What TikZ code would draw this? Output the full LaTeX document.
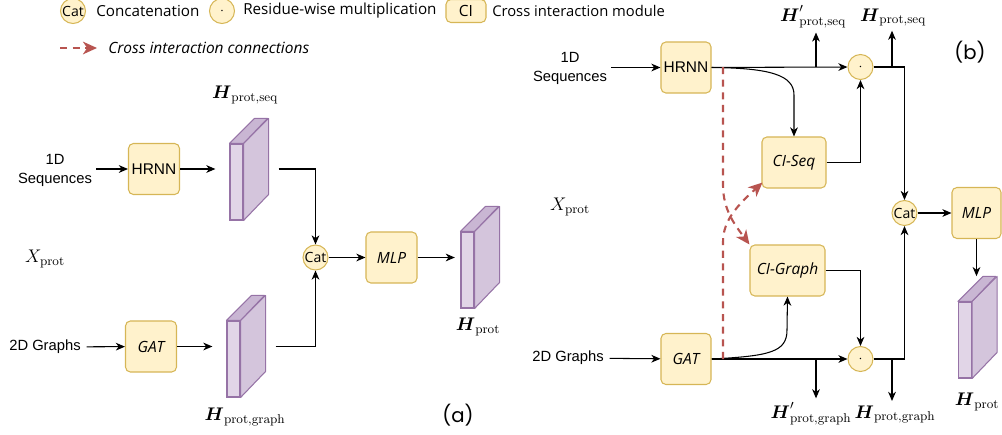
\RequirePackage{fix-cm}
\documentclass[tikz,border=0pt]{standalone}
\usepackage{amsmath}
\usepackage[no-math]{fontspec}
\setmainfont{Liberation Sans}
\newfontfamily\comicf{Open Sans}
\newfontfamily\roundf{Poppins}
\usetikzlibrary{arrows.meta}
\definecolor{blkfill}{HTML}{FFF2CC}
\definecolor{blkdraw}{HTML}{D6B656}
\definecolor{tfront}{HTML}{E1D5E7}
\definecolor{tsidec}{HTML}{D4C5DC}
\definecolor{ttopc}{HTML}{C9B6D3}
\definecolor{tdraw}{HTML}{9673A6}
\definecolor{crossred}{HTML}{B85450}

% tensor: name, centre of the front face
\newcommand{\tensorblk}[2]{%
  \node[tface] (#1) at (#2) {};
  \filldraw[tside] (#1.north east) -- ++(25,-25) -- ++(0,76) -- (#1.south east) -- cycle;
  \filldraw[ttop] (#1.north west) -- ++(25,-25) -- ++(13,0) -- (#1.north east) -- cycle;
}

\begin{document}
\begin{tikzpicture}[x=0.025cm,y=-0.025cm]
      \tikzstyle{block}=[rectangle, rounded corners=3.5pt, draw=blkdraw, fill=blkfill, line width=0.75pt,
        minimum width=1.275cm, minimum height=1.275cm, inner sep=0pt, font=\comicf\fontsize{11}{13}\selectfont]
      \tikzstyle{catc}=[circle, draw=blkdraw, fill=blkfill, line width=0.75pt, minimum size=0.625cm,
        inner sep=0pt, font=\comicf\fontsize{10}{11}\selectfont]
      \tikzstyle{dotc}=[catc, font=\normalsize]
      \tikzstyle{tface}=[rectangle, draw=tdraw, fill=tfront, line width=0.75pt,
        minimum width=0.325cm, minimum height=1.9cm, inner sep=0pt]
      \tikzstyle{tside}=[draw=tdraw, fill=tsidec, line width=0.75pt, line join=round]
      \tikzstyle{ttop}=[draw=tdraw, fill=ttopc, line width=0.75pt, line join=round]
      \tikzstyle{lbl}=[inner sep=0pt, font=\fontsize{10.5}{13.5}\selectfont]
      \tikzstyle{lgd}=[inner sep=0pt, anchor=west, font=\comicf\fontsize{10.8}{12}\selectfont]
      \tikzstyle{mathl}=[inner sep=0pt, font=\fontsize{13}{15}\selectfont]
      \tikzstyle{tag}=[inner sep=0pt, font=\roundf\fontsize{14}{16}\selectfont]
      \tikzstyle{arr}=[-{Stealth[length=6.5pt,width=5.5pt,inset=2pt]}, line width=0.75pt]
      \tikzstyle{cross}=[-{Stealth[length=10pt,width=9pt,inset=3pt]}, draw=crossred, line width=1.5pt,
        dash pattern=on 5pt off 4pt]
      \useasboundingbox (0,0) rectangle (1002,435);

      % legend
      \node[catc] (lcat) at (73,11) {Cat};
      \node[lgd] (lcatt) at (96,11) {Concatenation};
      \node[dotc] (ldot) at (222,11) {$\cdot$};
      \node[lgd] (ldott) at (243,11) {Residue-wise multiplication};
      \node[block, minimum width=1cm, minimum height=0.575cm] (lci) at (466,11) {CI};
      \node[lgd, font=\comicf\fontsize{10.5}{12}\selectfont] (lcit) at (492,11) {Cross interaction module};
      \coordinate (lcs) at (60,48);
      \coordinate (lce) at (97,48);
      \draw[cross] (lcs) -- (lce);
      \node[lgd, font=\comicf\itshape\fontsize{11}{12}\selectfont] (lcrt) at (108,48) {Cross interaction connections};

      % (a)
      \node[lbl, align=center] (aseq) at (55,170) {1D\\Sequences};
      \node[block, font=\fontsize{11}{13}\selectfont] (ahrnn) at (154,169) {HRNN};
      \tensorblk{aseqt}{236.5,182}
      \node[mathl] (aseql) at (245,95) {$\boldsymbol{H}_{\mathrm{prot,seq}}$};
      \node[mathl] (ax) at (45,259) {$X_{\mathrm{prot}}$};
      \node[lbl] (agr) at (45,347) {2D Graphs};
      \node[block, font=\comicf\itshape\fontsize{11}{13}\selectfont] (agat) at (151,346.5) {GAT};
      \tensorblk{agrt}{233.5,359}
      \node[mathl] (agrl) at (245,417) {$\boldsymbol{H}_{\mathrm{prot,graph}}$};
      \node[catc] (acat) at (315.5,257.5) {Cat};
      \node[block, font=\comicf\itshape\fontsize{11}{13}\selectfont] (amlp) at (391.5,257.5) {MLP};
      \tensorblk{aout}{467.5,270}
      \node[mathl] (aoutl) at (478,327) {$\boldsymbol{H}_{\mathrm{prot}}$};
      \node[tag] (alab) at (458,415) {(a)};

      \draw[arr, shorten <=3pt] (aseq.east |- ahrnn) -- (ahrnn);
      \draw[arr, shorten >=10pt] (ahrnn) -- (ahrnn -| aseqt.west);
      \draw[arr, shorten <=25pt] (aseqt.east |- ahrnn) -| (acat);
      \draw[arr, shorten <=4pt] (agr) -- (agat);
      \draw[arr, shorten >=10pt] (agat) -- (agat -| agrt.west);
      \draw[arr, shorten <=25pt] (agrt.east |- agat) -| (acat);
      \draw[arr] (acat) -- (amlp);
      \draw[arr, shorten >=4pt] (amlp) -- (amlp -| aout.west);

      % (b)
      \node[lbl, align=center] (bseq) at (570,68) {1D\\Sequences};
      \node[block, minimum width=1.25cm, font=\fontsize{11}{13}\selectfont] (bhrnn) at (686,67.5) {HRNN};
      \node[dotc] (bdot1) at (860.5,67) {$\cdot$};
      \node[block, minimum width=1.6cm, font=\comicf\itshape\fontsize{11}{13}\selectfont] (bciseq) at (794,162.5) {CI-Seq};
      \node[mathl, anchor=base] (bseqp) at (813,21) {$\boldsymbol{H}'_{\mathrm{prot,seq}}$};
      \node[mathl, anchor=base] (bseqh) at (893,21) {$\boldsymbol{H}_{\mathrm{prot,seq}}$};
      \node[tag] (blab) at (970,52) {(b)};
      \node[mathl] (bx) at (570,207) {$X_{\mathrm{prot}}$};
      \node[catc] (bcat) at (904.5,213) {Cat};
      \node[block, minimum width=1.225cm, font=\comicf\itshape\fontsize{11}{13}\selectfont] (bmlp) at (976.5,213) {MLP};
      \tensorblk{bout}{965,340}
      \node[mathl] (boutl) at (977,402) {$\boldsymbol{H}_{\mathrm{prot}}$};
      \node[lbl] (bgr) at (568,358) {2D Graphs};
      \node[block, minimum width=1.25cm, font=\comicf\itshape\fontsize{11}{13}\selectfont] (bgat) at (686,359) {GAT};
      \node[block, minimum width=1.875cm, font=\comicf\itshape\fontsize{11}{13}\selectfont] (bcigr) at (787.5,270.5) {CI-Graph};
      \node[dotc] (bdot2) at (860.5,359) {$\cdot$};
      \node[mathl, anchor=base] (bgrp) at (811,418) {$\boldsymbol{H}'_{\mathrm{prot,graph}}$};
      \node[mathl, anchor=base] (bgrh) at (895,418) {$\boldsymbol{H}_{\mathrm{prot,graph}}$};
      \coordinate (bs1) at (816,67);
      \coordinate (bs2) at (892,67);
      \coordinate (bg1) at (816,359);
      \coordinate (bg2) at (892,359);
      \coordinate (rs1) at (723,67);
      \coordinate (rs2) at (723,359);

      \draw[arr, shorten <=3pt] (bseq.east |- bhrnn) -- (bhrnn);
      \draw[arr] (bhrnn) -- (bdot1);
      \draw[arr, shorten >=3pt] (bs1) -- (bs1 |- bseqp.south);
      \draw[arr] (bdot1) -| (bcat);
      \draw[arr, shorten >=3pt] (bs2) -- (bs2 |- bseqh.south);
      \draw[arr] (bhrnn.east) .. controls (770,68) and (794,75) .. (794,95) -- (bciseq.north);
      \draw[arr] (bciseq.east) -| (bdot1);
      \draw[arr, shorten <=4pt] (bgr) -- (bgat);
      \draw[arr] (bgat) -- (bdot2);
      \draw[arr, shorten >=3pt] (bg1) -- (bg1 |- bgrp.north);
      \draw[arr] (bdot2) -| (bcat);
      \draw[arr, shorten >=3pt] (bg2) -- (bg2 |- bgrh.north);
      \draw[arr] (bgat.east) .. controls (770,356) and (787,352) .. (787,330) -- (bcigr.south);
      \draw[arr] (bcigr.east) -| (bdot2);
      \draw[arr] (bcat) -- (bmlp);
      \draw[arr, shorten >=18pt] (bmlp) -- (bmlp |- bout.north);
      \draw[cross] (rs1) -- (723,185) .. controls (723,210) and (735,225) .. (bcigr.north west);
      \draw[cross] (rs2) -- (723,242) .. controls (723,220) and (738,205) .. ([shift={(1,-6)}]bciseq.south west);
\end{tikzpicture}
\end{document}
